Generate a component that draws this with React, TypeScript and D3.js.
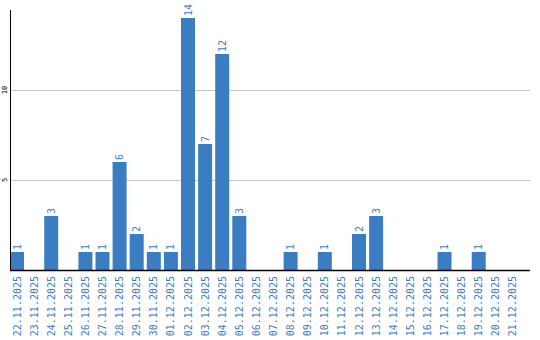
import React from "react";
import * as d3 from "d3";

const categories = [
  "22.11.2025","23.11.2025","24.11.2025","25.11.2025","26.11.2025","27.11.2025","28.11.2025","29.11.2025","30.11.2025","01.12.2025",
  "02.12.2025","03.12.2025","04.12.2025","05.12.2025","06.12.2025","07.12.2025","08.12.2025","09.12.2025","10.12.2025","11.12.2025",
  "12.12.2025","13.12.2025","14.12.2025","15.12.2025","16.12.2025","17.12.2025","18.12.2025","19.12.2025","20.12.2025","21.12.2025",
];
const values = [1,0,3,0,1,1,6,2,1,1,14,7,12,3,0,0,1,0,1,0,2,3,0,0,0,1,0,1,0,0];
const yTicks = [5, 10];

const W = 540, H = 340;
const left = 10, top = 10, baseline = 270, axisRight = 530;
const slot = 17;
const barColor = "#3b7dc3";
const textColor = "#3b7dc3";
const font = "'DejaVu Sans Mono', monospace";

export default function App() {
  const x = d3.scaleBand<string>().domain(categories).range([left, left + slot * categories.length]).paddingInner(3 / 17).paddingOuter(0).align(0);
  const y = d3.scaleLinear().domain([0, (baseline - top) / 18]).range([baseline, top]);
  const bw = 14;
  const step = x.step();
  return (
    <svg width={W} height={H} style={{ position: "absolute", left: 0, top: 0 }}>
      <rect width={W} height={H} fill="#fff" />
      {yTicks.map((t) => (
        <g key={t}>
          <line x1={left} x2={axisRight} y1={Math.round(y(t)) + 0.5} y2={Math.round(y(t)) + 0.5} stroke="#c8c8c8" strokeWidth={1} />
          <text transform={`translate(7,${y(t)}) rotate(-90)`} textAnchor="middle" fontFamily={font} fontSize={7} fill="#000">{t}</text>
        </g>
      ))}
      {categories.map((c, i) => {
        const x0 = left + i * step;
        const v = values[i];
        return (
          <g key={c}>
            {v > 0 && (
              <rect x={x0} y={y(v)} width={bw} height={baseline - y(v)} fill={barColor} />
            )}
            {v > 0 && (
              <text transform={`translate(${x0 + bw / 2 + 3.5},${y(v) - 2}) rotate(-90)`} textAnchor="start" fontFamily={font} fontSize={10} fill={textColor}>{v}</text>
            )}
            <text transform={`translate(${x0 + bw / 2 + 3.5},${baseline + 6}) rotate(-90)`} textAnchor="end" fontFamily={font} fontSize={10} fill={textColor}>{c}</text>
          </g>
        );
      })}
      <line x1={left + 0.5} x2={left + 0.5} y1={top} y2={baseline} stroke="#000" strokeWidth={1} />
      <line x1={left} x2={axisRight} y1={baseline + 0.5} y2={baseline + 0.5} stroke="#000" strokeWidth={1.5} />
    </svg>
  );
}
